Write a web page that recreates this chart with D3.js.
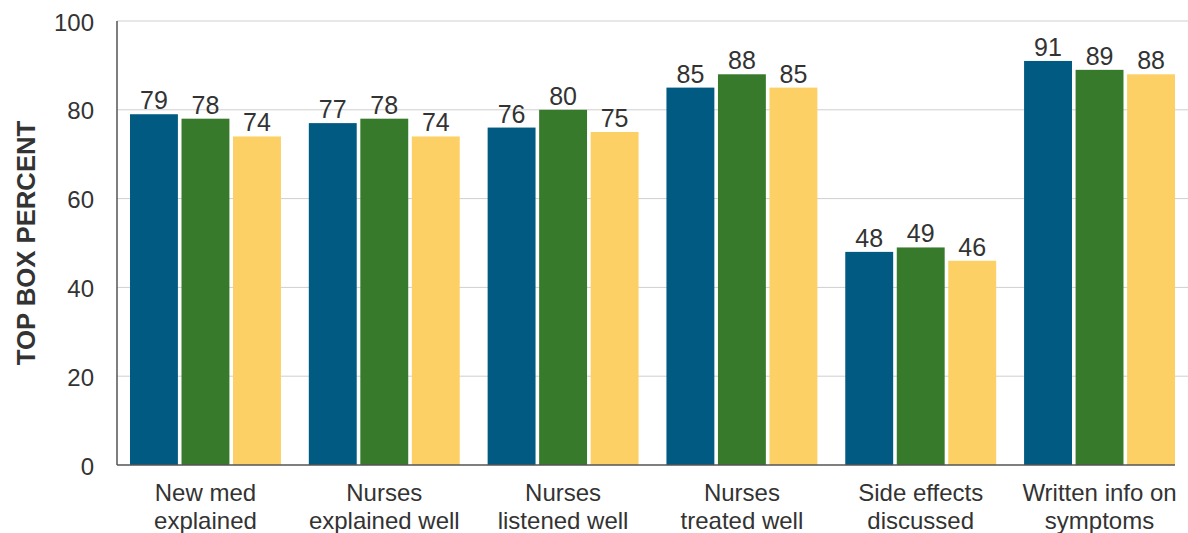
<!DOCTYPE html>
<html>
<head>
<meta charset="utf-8">
<script src="https://cdn.jsdelivr.net/npm/d3@7"></script>
<style>
  body { margin: 0; background: #fff; }
  text { font-family: "Liberation Sans", Arial, sans-serif; fill: #333; }
</style>
</head>
<body>
<div id="chart"></div>
<script>
// data
var categories = [
  ["New med", "explained"],
  ["Nurses", "explained well"],
  ["Nurses", "listened well"],
  ["Nurses", "treated well"],
  ["Side effects", "discussed"],
  ["Written info on", "symptoms"]
];
var seriesNames = ["s1", "s2", "s3"];
var series1 = [79, 77, 76, 85, 48, 91];
var series2 = [78, 78, 80, 88, 49, 89];
var series3 = [74, 74, 75, 85, 46, 88];
var yTicks = [0, 20, 40, 60, 80, 100];
var colors = ["#005a82", "#387a2c", "#fdd066"];

var W = 1188, H = 533;
var margin = {top: 21, right: 0, bottom: 68, left: 117},
    width = W - margin.left - margin.right,
    height = H - margin.top - margin.bottom;

var svg = d3.select('#chart')
  .append('svg')
  .attr('width', W)
  .attr('height', H)

var g = svg.append('g')
  .attr('transform', 'translate(' + margin.left + ',' + margin.top + ')')

var rows = categories.map(function (c, i) {
  return { cat: c, vals: [series1[i], series2[i], series3[i]] }
})

// group scale + bar-in-group scale
var x0 = d3.scaleBand()
  .domain(d3.range(categories.length))
  .range([0, 1071])
  .paddingInner(0.156)
  .paddingOuter(0.0727)

var x1 = d3.scaleBand()
  .domain(seriesNames)
  .range([0, x0.bandwidth()])
  .paddingInner(0.07)

var y = d3.scaleLinear()
  .domain([0, 100])
  .range([height, 0])

// gridlines
g.append('g')
  .selectAll('line')
  .data(yTicks.filter(function (t) { return t > 0 }))
  .enter().append('line')
  .attr('x1', 0)
  .attr('x2', width)
  .attr('y1', function (d) { return y(d) })
  .attr('y2', function (d) { return y(d) })
  .attr('stroke', '#cfcfcf')
  .attr('stroke-width', 1)

// y axis labels
g.append('g')
  .selectAll('text')
  .data(yTicks)
  .enter().append('text')
  .attr('x', -23)
  .attr('y', function (d) { return y(d) })
  .attr('dy', '0.4em')
  .attr('text-anchor', 'end')
  .style('font-size', '24px')
  .text(function (d) { return d })

// bars
var groups = g.selectAll('.grp')
  .data(rows)
  .enter().append('g')
  .attr('class', 'grp')
  .attr('transform', function (d, i) { return 'translate(' + x0(i) + ',0)' })

groups.selectAll('rect')
  .data(function (d) { return d.vals.map(function (v, k) { return {k: k, v: v} }) })
  .enter().append('rect')
  .attr('x', function (d) { return x1(seriesNames[d.k]) })
  .attr('y', function (d) { return y(d.v) })
  .attr('width', x1.bandwidth())
  .attr('height', function (d) { return height - y(d.v) })
  .attr('fill', function (d) { return colors[d.k] })

groups.selectAll('.val')
  .data(function (d) { return d.vals.map(function (v, k) { return {k: k, v: v} }) })
  .enter().append('text')
  .attr('class', 'val')
  .attr('x', function (d) { return x1(seriesNames[d.k]) + x1.bandwidth() / 2 })
  .attr('y', function (d) { return y(d.v) - 5 })
  .attr('text-anchor', 'middle')
  .style('font-size', '25px')
  .text(function (d) { return d.v })

// axis lines
g.append('line')
  .attr('x1', 0).attr('x2', 0)
  .attr('y1', 0).attr('y2', height)
  .attr('stroke', '#555').attr('stroke-width', 1.5)
g.append('line')
  .attr('x1', 0).attr('x2', 1058)
  .attr('y1', height).attr('y2', height)
  .attr('stroke', '#555').attr('stroke-width', 1.5)

// category labels (two lines)
groups.append('text')
  .attr('x', x0.bandwidth() / 2)
  .attr('y', height + 36)
  .attr('text-anchor', 'middle')
  .style('font-size', '24px')
  .selectAll('tspan')
  .data(function (d) { return d.cat })
  .enter().append('tspan')
  .attr('x', x0.bandwidth() / 2)
  .attr('dy', function (d, i) { return i === 0 ? 0 : 27.5 })
  .text(function (d) { return d })

// y title
svg.append('text')
  .attr('transform', 'translate(35,' + (margin.top + height / 2) + ') rotate(-90)')
  .attr('text-anchor', 'middle')
  .style('font-size', '25.7px')
  .style('font-weight', 'bold')
  .text('TOP BOX PERCENT')
</script>
</body>
</html>
